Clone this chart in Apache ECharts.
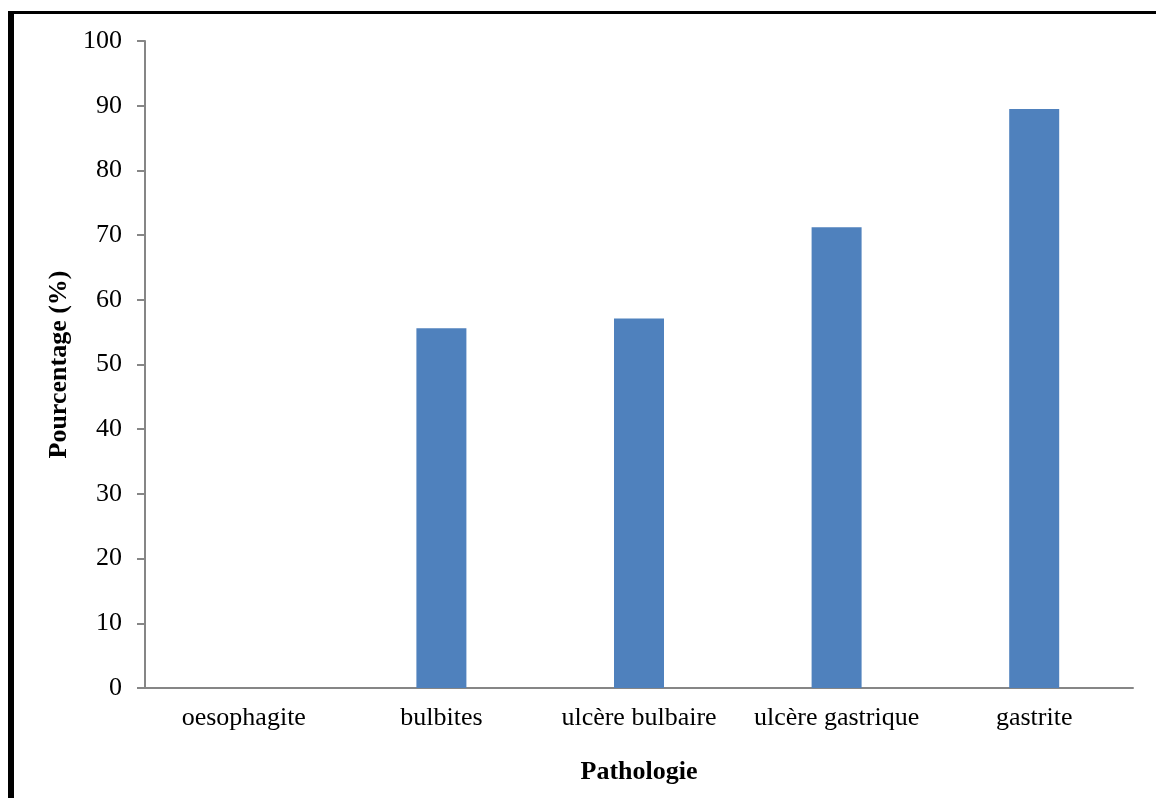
<!DOCTYPE html>
<html>
<head>
<meta charset="utf-8">
<script src="https://cdn.jsdelivr.net/npm/echarts@6/dist/echarts.min.js"></script>
<style>
  html, body { margin: 0; padding: 0; background: #fff; }
  #chart { width: 1156px; height: 798px; }
</style>
</head>
<body>
<div id="chart"></div>
<script>
// Pathologies and their percentages
var categories = ['oesophagite', 'bulbites', 'ulcère bulbaire', 'ulcère gastrique', 'gastrite'];
var percentages = [0, 55.6, 57.1, 71.2, 89.5];
var yMin = 0, yMax = 100, yStep = 10;

var serif = '"Liberation Serif", "Times New Roman", serif';
var axisGrey = '#868686';

var chart = echarts.init(document.getElementById('chart'));
chart.setOption({
  animation: false,
  backgroundColor: '#ffffff',
  grid: { left: 145, right: 23, top: 41, bottom: 110 },
  graphic: [
    // frame around the figure (left and top edges)
    { type: 'rect', shape: { x: 8, y: 11, width: 6, height: 787 }, style: { fill: '#000' } },
    { type: 'rect', shape: { x: 8, y: 11, width: 1148, height: 3 }, style: { fill: '#000' } }
  ],
  xAxis: {
    type: 'category',
    data: categories,
    name: 'Pathologie',
    nameLocation: 'middle',
    nameGap: 71,
    nameTextStyle: { fontFamily: serif, fontSize: 26, fontWeight: 'bold', color: '#000' },
    axisLine: { lineStyle: { color: axisGrey, width: 2 } },
    axisTick: { show: false },
    axisLabel: { fontFamily: serif, fontSize: 26, color: '#000', margin: 17, interval: 0 }
  },
  yAxis: {
    type: 'value',
    min: yMin,
    max: yMax,
    interval: yStep,
    name: 'Pourcentage (%)',
    nameLocation: 'middle',
    nameGap: 66,
    nameTextStyle: { fontFamily: serif, fontSize: 26, fontWeight: 'bold', color: '#000' },
    axisLine: { show: true, lineStyle: { color: axisGrey, width: 2 } },
    axisTick: { show: true, length: 8, lineStyle: { color: axisGrey, width: 2 } },
    splitLine: { show: false },
    axisLabel: { fontFamily: serif, fontSize: 26, color: '#000', margin: 23 }
  },
  series: [{
    type: 'bar',
    data: percentages,
    barWidth: 50,
    itemStyle: { color: '#4F81BD' }
  }]
});
</script>
</body>
</html>
